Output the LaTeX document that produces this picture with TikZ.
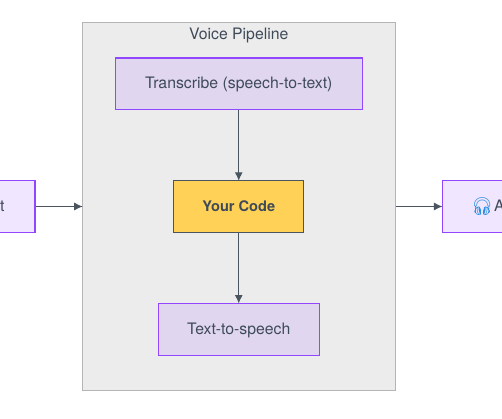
\documentclass[tikz,border=0pt]{standalone}
\usepackage{fontspec}
\setmainfont{TeX Gyre Heros}
\newfontfamily\emojifont{Noto Emoji}
\usetikzlibrary{arrows.meta}
\definecolor{txt}{HTML}{3F4A59}
\definecolor{edge}{HTML}{4A5560}
\definecolor{purp}{HTML}{9146FF}
\definecolor{pfill}{HTML}{E0D6F0}
\definecolor{lfill}{HTML}{F0E6FF}
\definecolor{yfill}{HTML}{FFD257}
\definecolor{gfill}{HTML}{ECECEC}
\definecolor{gline}{HTML}{B5B5B5}
\definecolor{hblue}{HTML}{2F8FE0}
\newcommand{\lowered}[1]{\raisebox{-5.2pt}[0pt][0pt]{#1}}
\tikzset{
  lab/.style={text=txt,font=\fontsize{15.8}{18}\selectfont},
  pbox/.style={draw=purp,line width=1.1pt,fill=#1,inner sep=0pt,lab},
  conn/.style={draw=edge,line width=1pt,shorten >=-0.5pt,-{Latex[length=8.5pt,width=8pt]}}
}
\begin{document}
\begin{tikzpicture}[x=1pt,y=-1pt]
\useasboundingbox (0,0) rectangle (502,419);
\clip (0,0) rectangle (502,419);
\fill[white] (0,0) rectangle (502,419);
\node[draw=gline,line width=1.1pt,fill=gfill,minimum width=312.5pt,minimum height=368pt,inner sep=0pt] (cluster) at (239,206.5) {};
\node[lab] (title) at (238.75,35.5) {Voice Pipeline};
\node[pbox=pfill,minimum width=247pt,minimum height=51.5pt] (trans) at (238.75,83.8) {\lowered{Transcribe (speech-to-text)}};
\node[draw=edge,line width=1.1pt,fill=yfill,minimum width=130pt,minimum height=51.5pt,inner sep=0pt,lab,font=\fontsize{14.6}{18}\selectfont\bfseries] (code) at (238.75,206.6) {\lowered{Your Code}};
\node[pbox=pfill,minimum width=161pt,minimum height=51.5pt] (tts) at (238.75,329.3) {\lowered{Text-to-speech}};
\node[pbox=lfill,minimum width=75pt,minimum height=51.5pt] (inp) at (-2.5,206.5) {};
\node[lab,anchor=base west,inner sep=0pt] (inptxt) at (0,212) {t};
\node[pbox=lfill,minimum width=120pt,minimum height=51.5pt] (outp) at (502.5,206.5) {};
\node[lab,anchor=base west,inner sep=0pt,font=\fontsize{17.5}{18}\emojifont,text=hblue] (icon) at (471,213) {🎧};
\node[lab,anchor=base west,inner sep=0pt] (outtxt) at (494,212) {A};
\draw[conn] (trans.south) -- (code.north);
\draw[conn] (code.south) -- (tts.north);
\draw[conn] (inp.east) -- (cluster.west);
\draw[conn] (cluster.east) -- (outp.west);
\end{tikzpicture}
\end{document}
